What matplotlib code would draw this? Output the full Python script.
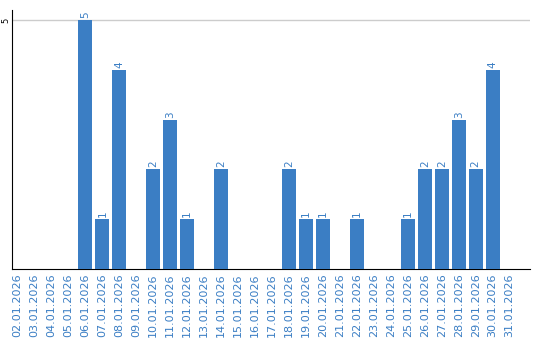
import matplotlib
matplotlib.use("Agg")
import matplotlib.pyplot as plt

dates = ["02.01.2026", "03.01.2026", "04.01.2026", "05.01.2026", "06.01.2026",
         "07.01.2026", "08.01.2026", "09.01.2026", "10.01.2026", "11.01.2026",
         "12.01.2026", "13.01.2026", "14.01.2026", "15.01.2026", "16.01.2026",
         "17.01.2026", "18.01.2026", "19.01.2026", "20.01.2026", "21.01.2026",
         "22.01.2026", "23.01.2026", "24.01.2026", "25.01.2026", "26.01.2026",
         "27.01.2026", "28.01.2026", "29.01.2026", "30.01.2026", "31.01.2026"]
values = [0, 0, 0, 0, 5, 1, 4, 0, 2, 3, 1, 0, 2, 0, 0, 0, 2, 1, 1, 0,
          1, 0, 0, 1, 2, 2, 3, 2, 4, 0]

blue = "#3b7ec4"
fig = plt.figure(figsize=(5.4, 3.4), dpi=100)
ax = fig.add_axes([0.0215, 0.209, 0.96, 0.761])
x = list(range(len(dates)))
ax.bar(x, values, width=0.82, color=blue, zorder=3)
for xi, v in zip(x, values):
    if v > 0:
        ax.text(xi, v + 0.04, str(v), rotation=90, ha="center", va="bottom",
                color=blue, fontsize=7.5)
ax.set_xlim(-0.35, 30.2)
ax.set_ylim(0, 5.2)
ax.set_yticks([5])
ax.set_yticklabels(["5"], rotation=90, va="center", fontsize=6)
ax.yaxis.grid(True, color="#cccccc", linewidth=1, zorder=0)
ax.set_xticks(x)
ax.set_xticklabels(dates, rotation=90, color=blue, fontsize=8)
ax.tick_params(axis="x", length=0, pad=3)
ax.tick_params(axis="y", length=0, pad=1)
for s in ["top", "right"]:
    ax.spines[s].set_visible(False)
ax.spines["left"].set_color("black")
ax.spines["bottom"].set_color("black")
fig.savefig("out.png", dpi=100)
